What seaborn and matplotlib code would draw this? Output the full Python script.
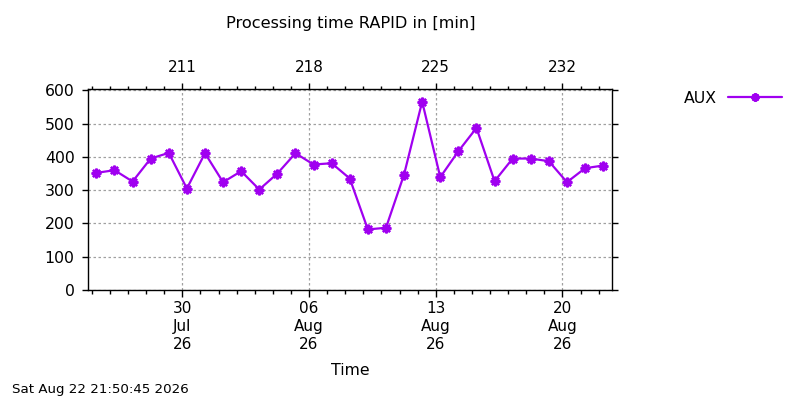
import pandas as pd
import seaborn as sns
import matplotlib.pyplot as plt
import matplotlib.dates as mdates
from matplotlib.lines import Line2D
from matplotlib.ticker import FixedLocator

# daily processing runs, ~06:00 each morning
days = pd.date_range("2026-07-25 06:00", "2026-08-22 06:00", freq="D")
aux_minutes = [352, 360, 326, 395, 412, 305, 411, 324, 357, 302,
               350, 411, 377, 381, 335, 182, 187, 347, 566, 339,
               417, 487, 327, 395, 395, 387, 324, 366, 374]

major_dates = ["2026-07-30", "2026-08-06", "2026-08-13", "2026-08-20"]
y_ticks = [0, 100, 200, 300, 400, 500, 600]

title = "Processing time RAPID in [min]"
stamp = "Sat Aug 22 21:50:45 2026"
color = "#a000f0"

df = pd.DataFrame({"Time": days, "AUX": aux_minutes})

sns.set_style("white")
plt.rcParams["font.family"] = ["DejaVu Sans"]
plt.rcParams["text.color"] = "black"
plt.rcParams["xtick.color"] = "black"
plt.rcParams["ytick.color"] = "black"
plt.rcParams["axes.labelcolor"] = "black"

fig = plt.figure(figsize=(8, 4), dpi=100)
ax = fig.add_axes([0.1105, 0.275, 0.655, 0.5025])

star = (8, 2, 0)
sns.lineplot(data=df, x="Time", y="AUX", ax=ax, color=color, lw=1.6,
             marker=star, markersize=7, markeredgewidth=1.7,
             markeredgecolor=color, legend=False)

xmin = pd.Timestamp("2026-07-24 19:25")
xmax = pd.Timestamp("2026-08-22 18:15")
ax.set_xlim(xmin, xmax)
ax.set_ylim(0, 604)

maj = pd.to_datetime(major_dates)
ax.xaxis.set_major_locator(FixedLocator(mdates.date2num(maj)))
ax.xaxis.set_minor_locator(mdates.DayLocator())
ax.set_xticklabels([d.strftime("%d\n%b\n%y") for d in maj], fontsize=11,
                   linespacing=1.25)
ax.set_yticks(y_ticks)
ax.tick_params(axis="y", labelsize=11.3, direction="out", length=4, width=1,
               right=True, left=True, pad=6)
ax.tick_params(axis="x", which="major", direction="out", length=5, width=1,
               labelsize=11, pad=3)
ax.tick_params(axis="x", which="minor", direction="out", length=3, width=1)

ax.grid(True, which="major", color="#a0a0a0", linestyle=(0, (2, 2)), lw=0.9)
for s in ax.spines.values():
    s.set_color("black")
    s.set_linewidth(1)

# day-of-year on top
top = ax.twiny()
top.set_xlim(ax.get_xlim())
top.xaxis.set_major_locator(FixedLocator(mdates.date2num(maj)))
top.xaxis.set_minor_locator(mdates.DayLocator())
top.set_xticklabels([str(d.dayofyear) for d in maj], fontsize=11)
top.tick_params(axis="x", which="major", direction="out", length=4, width=1, pad=6)
top.tick_params(axis="x", which="minor", direction="out", length=2.5, width=1)
for s in top.spines.values():
    s.set_visible(False)

ax.set_xlabel("Time", fontsize=11.3, labelpad=8)
ax.set_ylabel("")
handle = Line2D([], [], color=color, lw=1.6, marker=star, markersize=6,
                markeredgewidth=1.7, markeredgecolor=color)
ax.legend([handle], ["AUX"], loc="center left", bbox_to_anchor=(1.11, 0.955),
          frameon=False, markerfirst=False, fontsize=11.3, handlelength=3.4,
          handletextpad=0.7)

fig.text(0.4385, 0.942, title, ha="center", va="center", fontsize=11.6)
fig.text(0.015, 0.025, stamp, ha="left", va="center", fontsize=9.6)

fig.savefig("out.png", dpi=100)
